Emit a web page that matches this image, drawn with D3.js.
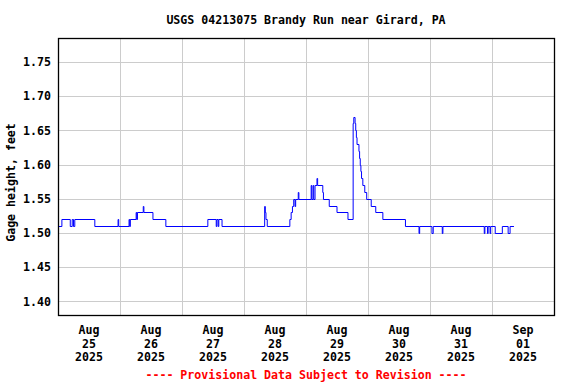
<!DOCTYPE html>
<html>
  <head>
    <meta charset="utf-8">
    <title>USGS 04213075 Brandy Run near Girard, PA</title>
    <style media="screen">
      body { margin: 0; background-color: #fff; }
      text {
        font-family: "DejaVu Sans Mono", monospace;
        font-weight: bold;
        font-size: 11.6px;
      }
    </style>
  </head>
  <body>
    <svg id="svg1" width="576" height="384"></svg>

    <script type="text/javascript" src="https://cdnjs.cloudflare.com/ajax/libs/d3/7.8.5/d3.min.js"></script>
    <script type="text/javascript">
      // Gage height readings, only the times where the value changes (15-min data)
      var times = [
        "2025-08-25 00:00", "2025-08-25 01:30", "2025-08-25 04:45", "2025-08-25 05:30",
        "2025-08-25 06:00", "2025-08-25 06:30", "2025-08-25 14:15", "2025-08-25 23:15",
        "2025-08-25 23:30", "2025-08-26 03:30", "2025-08-26 03:45", "2025-08-26 04:00",
        "2025-08-26 06:15", "2025-08-26 06:30", "2025-08-26 06:45", "2025-08-26 09:00",
        "2025-08-26 09:15", "2025-08-26 12:45", "2025-08-26 17:45", "2025-08-27 10:00",
        "2025-08-27 13:15", "2025-08-27 13:30", "2025-08-27 14:00", "2025-08-27 14:15",
        "2025-08-27 15:30", "2025-08-28 08:00", "2025-08-28 08:15", "2025-08-28 08:30",
        "2025-08-28 09:00", "2025-08-28 17:45", "2025-08-28 18:15", "2025-08-28 18:45",
        "2025-08-28 19:15", "2025-08-28 19:45", "2025-08-28 20:00", "2025-08-28 21:00",
        "2025-08-28 21:15", "2025-08-29 02:00", "2025-08-29 02:15", "2025-08-29 02:45",
        "2025-08-29 03:00", "2025-08-29 03:30", "2025-08-29 04:15", "2025-08-29 04:30",
        "2025-08-29 06:30", "2025-08-29 06:45", "2025-08-29 09:00", "2025-08-29 12:00",
        "2025-08-29 16:15", "2025-08-29 18:15", "2025-08-29 18:30", "2025-08-29 19:00",
        "2025-08-29 19:15", "2025-08-29 19:30", "2025-08-29 19:45", "2025-08-29 20:30",
        "2025-08-29 20:45", "2025-08-29 21:00", "2025-08-29 21:15", "2025-08-29 21:30",
        "2025-08-29 22:00", "2025-08-29 22:45", "2025-08-29 23:30", "2025-08-30 01:15",
        "2025-08-30 03:00", "2025-08-30 05:45", "2025-08-30 14:30", "2025-08-30 19:45",
        "2025-08-30 20:00", "2025-08-31 00:45", "2025-08-31 01:15", "2025-08-31 04:45",
        "2025-08-31 05:00", "2025-08-31 21:00", "2025-08-31 21:15", "2025-08-31 22:15",
        "2025-08-31 22:30", "2025-08-31 23:15", "2025-08-31 23:30", "2025-09-01 01:15",
        "2025-09-01 04:00", "2025-09-01 06:15", "2025-09-01 07:00", "2025-09-01 08:30"
      ];
      var gageHeight = [
        1.51, 1.52, 1.51, 1.52,
        1.51, 1.52, 1.51, 1.52,
        1.51, 1.52, 1.51, 1.52,
        1.53, 1.52, 1.53, 1.54,
        1.53, 1.52, 1.51, 1.52,
        1.51, 1.52, 1.51, 1.52,
        1.51, 1.54, 1.53, 1.52,
        1.51, 1.52, 1.53, 1.54,
        1.55, 1.54, 1.55, 1.56,
        1.55, 1.57, 1.55, 1.57,
        1.55, 1.57, 1.58, 1.57,
        1.56, 1.55, 1.54, 1.53,
        1.52, 1.66, 1.67, 1.66,
        1.65, 1.64, 1.63, 1.62,
        1.61, 1.60, 1.59, 1.58,
        1.57, 1.56, 1.55, 1.54,
        1.53, 1.52, 1.51, 1.50,
        1.51, 1.50, 1.51, 1.50,
        1.51, 1.50, 1.51, 1.50,
        1.51, 1.50, 1.51, 1.50,
        1.51, 1.50, 1.51, 1.51
      ];
      var yTicks = [1.40, 1.45, 1.50, 1.55, 1.60, 1.65, 1.70, 1.75];
      var dayTicks = ["2025-08-25", "2025-08-26", "2025-08-27", "2025-08-28",
                      "2025-08-29", "2025-08-30", "2025-08-31", "2025-09-01", "2025-09-02"];

      var parseTime = d3.timeParse("%Y-%m-%d %H:%M");
      var parseDay = d3.timeParse("%Y-%m-%d");
      var data = times.map(function(t, i) {
        return {time: parseTime(t), value: gageHeight[i]};
      });
      var days = dayTicks.map(parseDay);

      var svg = d3.select("#svg1");
      var margin = {top: 38, right: 22, bottom: 69, left: 58};
      var width = 576 - margin.left - margin.right,
          height = 384 - margin.top - margin.bottom;

      var x = d3.scaleTime()
        .domain([days[0], days[days.length - 1]])
        .range([margin.left, margin.left + width]);

      var y = d3.scaleLinear()
        .domain([1.38, 1.785])
        .range([margin.top + height, margin.top]);

      // Grid lines
      var grid = svg.append("g").attr("stroke", "#cccccc").attr("stroke-width", 1);
      grid.selectAll("line.h")
        .data(yTicks)
        .enter()
        .append("line")
        .attr("x1", margin.left)
        .attr("x2", margin.left + width)
        .attr("y1", function(d) { return Math.round(y(d)) + 0.5; })
        .attr("y2", function(d) { return Math.round(y(d)) + 0.5; });
      grid.selectAll("line.v")
        .data(days.slice(1, -1))
        .enter()
        .append("line")
        .attr("x1", function(d) { return Math.round(x(d)) + 0.5; })
        .attr("x2", function(d) { return Math.round(x(d)) + 0.5; })
        .attr("y1", margin.top)
        .attr("y2", margin.top + height);

      // Data line
      var line = d3.line()
        .curve(d3.curveStepAfter)
        .x(function(d) { return x(d.time); })
        .y(function(d) { return Math.round(y(d.value)) + 0.5; });

      svg.append("path")
        .datum(data)
        .attr("d", line)
        .attr("fill", "none")
        .attr("stroke", "#0000ff")
        .attr("stroke-width", 1);

      // Frame
      svg.append("rect")
        .attr("x", margin.left + 0.5)
        .attr("y", margin.top + 0.5)
        .attr("width", width)
        .attr("height", height)
        .attr("fill", "none")
        .attr("stroke", "#000")
        .attr("stroke-width", 1.3);

      // Y axis labels
      var yAxis = svg.append("g")
        .attr("transform", "translate(" + (margin.left - 7) + ",0)")
        .call(d3.axisLeft(y).tickValues(yTicks).tickFormat(d3.format(".2f")).tickSize(0).tickPadding(0));
      yAxis.select(".domain").remove();
      yAxis.selectAll("text")
        .attr("fill", "#000")
        .style("font-family", "DejaVu Sans Mono")
        .style("font-size", "11.6px");

      // X axis labels: month / day / year centred on each day
      var fmtMonth = d3.timeFormat("%b"), fmtDay = d3.timeFormat("%d"), fmtYear = d3.timeFormat("%Y");
      var xLab = svg.append("g").selectAll("text")
        .data(days.slice(0, -1))
        .enter()
        .append("text")
        .attr("text-anchor", "middle")
        .attr("x", function(d) { return x(d3.timeHour.offset(d, 12)); })
        .attr("y", margin.top + height + 19);
      xLab.append("tspan").attr("x", function(d) { return x(d3.timeHour.offset(d, 12)); }).attr("dy", 0).text(fmtMonth);
      xLab.append("tspan").attr("x", function(d) { return x(d3.timeHour.offset(d, 12)); }).attr("dy", 13.6).text(fmtDay);
      xLab.append("tspan").attr("x", function(d) { return x(d3.timeHour.offset(d, 12)); }).attr("dy", 13.6).text(fmtYear);

      // Title
      svg.append("text")
        .attr("x", margin.left + width / 2)
        .attr("y", 24)
        .attr("text-anchor", "middle")
        .text("USGS 04213075 Brandy Run near Girard, PA");

      // Y axis title
      svg.append("text")
        .attr("transform", "translate(15," + (margin.top + height / 2 + 6) + ") rotate(-90)")
        .attr("text-anchor", "middle")
        .text("Gage height, feet");

      // Footer
      svg.append("text")
        .attr("x", margin.left + width / 2)
        .attr("y", 379)
        .attr("text-anchor", "middle")
        .attr("fill", "#ff0000")
        .text("---- Provisional Data Subject to Revision ----");
    </script>
  </body>
</html>
